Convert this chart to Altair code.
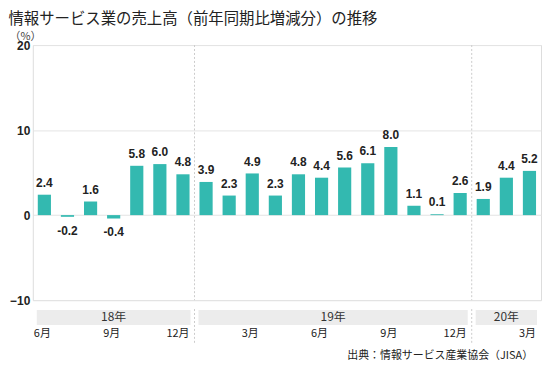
import altair as alt
import pandas as pd

# ---- data ----
months = ["2018-06", "2018-07", "2018-08", "2018-09", "2018-10", "2018-11", "2018-12",
          "2019-01", "2019-02", "2019-03", "2019-04", "2019-05", "2019-06", "2019-07",
          "2019-08", "2019-09", "2019-10", "2019-11", "2019-12",
          "2020-01", "2020-02", "2020-03"]
values = [2.4, -0.2, 1.6, -0.4, 5.8, 6.0, 4.8,
          3.9, 2.3, 4.9, 2.3, 4.8, 4.4, 5.6, 6.1, 8.0, 1.1, 0.1, 2.6,
          1.9, 4.4, 5.2]
tick_months = ["2018-06", "2018-09", "2018-12", "2019-03", "2019-06", "2019-09", "2019-12", "2020-03"]
tick_labels = ["6月", "9月", "12月", "3月", "6月", "9月", "12月", "3月"]
years = ["18年", "19年", "20年"]
year_first = ["2018-06", "2019-01", "2020-01"]
year_last = ["2018-12", "2019-12", "2020-03"]
y_ticks = [-10, 0, 10, 20]

TITLE = "情報サービス業の売上高（前年同期比増減分）の推移"
SOURCE = "出典：情報サービス産業協会（JISA）"

TEAL = "#33b9b0"
GRID = "#e4e4e4"
CJK = "Noto Sans CJK JP"
LAT = "Liberation Sans"

# ---- tables ----
n = len(months)
idx = {m: i for i, m in enumerate(months)}
df = pd.DataFrame({"month": months, "value": values})
df["start"] = [idx[m] for m in months]
df["end"] = df["start"] + 1
df["center"] = df["start"] + 0.5
df["label"] = [f"{v:.1f}" for v in values]

year_df = pd.DataFrame({
    "year": years,
    "start": [idx[m] for m in year_first],
    "end": [idx[m] + 1 for m in year_last],
})
year_df["mid"] = (year_df["start"] + year_df["end"]) / 2
year_df["row"] = "year"
bound_df = pd.DataFrame({"pos": [idx[m] for m in year_first[1:]]})
tick_df = pd.DataFrame({"pos": [idx[m] + 0.78 for m in tick_months], "label": tick_labels})
tick_df["row"] = "month"

W, H = 512, 257

xq = alt.Scale(domain=[0, n], nice=False, zero=False)
yscale = alt.Scale(domain=[-10, 20], nice=False)

# ---- top chart ----
base = alt.Chart(df)
bars = base.mark_bar(color=TEAL, xOffset=5, x2Offset=-5).encode(
    x=alt.X("start:Q", scale=xq, axis=None),
    x2="end:Q",
    y=alt.Y("value:Q", scale=yscale,
            axis=alt.Axis(values=y_ticks, grid=True, gridColor=GRID, domain=False, ticks=False,
                          labelFont=LAT, labelFontSize=12, labelFontWeight="bold",
                          labelColor="#222", labelPadding=3,
                          title="（%）", titleAngle=0, titleAlign="left", titleBaseline="alphabetic",
                          titleX=-24, titleY=-6, titleFont=CJK, titleFontSize=11,
                          titleFontWeight="normal", titleColor="#444")),
    y2=alt.datum(0),
)
pos_labels = base.transform_filter("datum.value >= 0").mark_text(
    font=LAT, fontSize=12, fontWeight="bold", color="#222", baseline="alphabetic", dy=-8
).encode(x=alt.X("center:Q", scale=xq), y=alt.Y("value:Q", scale=yscale), text="label:N")
neg_labels = base.transform_filter("datum.value < 0").mark_text(
    font=LAT, fontSize=12, fontWeight="bold", color="#222", baseline="top", dy=9
).encode(x=alt.X("center:Q", scale=xq), y=alt.Y("value:Q", scale=yscale), text="label:N")
rules_top = alt.Chart(bound_df).mark_rule(color="#cccccc", strokeDash=[2, 2], strokeWidth=1).encode(
    x=alt.X("pos:Q", scale=xq, axis=None)
)
top = alt.layer(rules_top, bars, pos_labels, neg_labels).properties(
    width=W, height=H, view=alt.ViewBackground(stroke="#dddddd")
)

# ---- bottom (year / month rows) ----
yrow = alt.Scale(domain=["year", "month"], paddingInner=0.1, paddingOuter=0.05)
rects = alt.Chart(year_df).mark_rect(color="#ececec", xOffset=4, x2Offset=-4).encode(
    x=alt.X("start:Q", scale=xq, axis=None), x2="end:Q",
    y=alt.Y("row:N", scale=yrow, axis=None),
)
year_text = alt.Chart(year_df).mark_text(font=CJK, fontSize=12, color="#333").encode(
    x=alt.X("mid:Q", scale=xq, axis=None), y=alt.Y("row:N", scale=yrow, axis=None), text="year:N"
)
month_text = alt.Chart(tick_df).mark_text(font=CJK, fontSize=11, color="#222", align="right").encode(
    x=alt.X("pos:Q", scale=xq, axis=None), y=alt.Y("row:N", scale=yrow, axis=None), text="label:N"
)
rules_bot = alt.Chart(bound_df).mark_rule(color="#cccccc", strokeDash=[2, 2], strokeWidth=1).encode(
    x=alt.X("pos:Q", scale=xq, axis=None)
)
bottom = alt.layer(rules_bot, rects, year_text, month_text).properties(
    width=W, height=34, view=alt.ViewBackground(stroke=None),
    title=alt.TitleParams(SOURCE, orient="bottom", anchor="end", font=CJK, fontSize=11,
                          fontWeight="normal", color="#222", offset=7, dx=-8),
)

chart = alt.vconcat(top, bottom, spacing=1).properties(
    title=alt.TitleParams(TITLE, anchor="start", font=CJK, fontSize=15.5, fontWeight="normal",
                          color="#222", offset=2),
    padding={"left": 0, "top": 3, "right": 0, "bottom": 0},
)

chart.save("out.html", embed_options={"renderer": "svg", "actions": False})
